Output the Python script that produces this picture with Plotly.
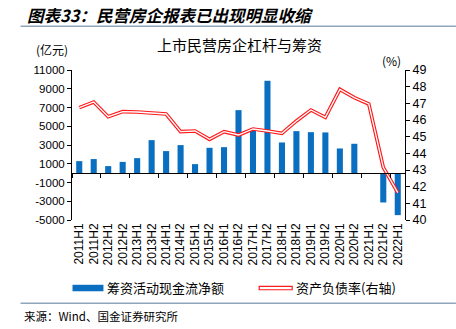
import plotly.graph_objects as go

categories = ["2011H1", "2011H2", "2012H1", "2012H2", "2013H1", "2013H2", "2014H1", "2014H2",
              "2015H1", "2015H2", "2016H1", "2016H2", "2017H1", "2017H2", "2018H1", "2018H2",
              "2019H1", "2019H2", "2020H1", "2020H2", "2021H1", "2021H2", "2022H1"]
financing_cf = [1280, 1500, 750, 1200, 1600, 3520, 2350, 2990, 960, 2700, 2770, 6720,
                4770, 9850, 3270, 4480, 4370, 4340, 2630, 3130, -80, -3130, -4480]
debt_ratio = [46.74, 47.08, 46.2, 46.5, 46.48, 46.44, 46.36, 45.3, 45.34, 44.84, 45.3, 45.1,
              45.46, 45.34, 45.2, 45.94, 46.6, 46.16, 47.84, 47.34, 46.96, 43.16, 41.64]
left_ticks = [-5000, -3000, -1000, 1000, 3000, 5000, 7000, 9000, 11000]
right_ticks = [40, 41, 42, 43, 44, 45, 46, 47, 48, 49]

WIDTH, HEIGHT = 456, 329
L, R, T, B = 71.5, 405.0, 69.5, 220.0

def px(x):
    return (x - L) / (R - L)

def py(y):
    return (B - y) / (B - T)

BLUE = "#0A6FC0"
RED = "#FF1A1A"
RULE = "#8FA6BA"
FONT = "Liberation Sans, Arial, Noto Sans CJK SC"
CJK = "Noto Sans CJK SC"

ymin, ymax = left_ticks[0], left_ticks[-1]
zero_pos = (0 - ymin) / (ymax - ymin)

fig = go.Figure()
fig.add_trace(go.Bar(x=categories, y=financing_cf, marker=dict(color=BLUE, line=dict(width=0)),
                     name="筹资活动现金流净额", showlegend=False))
fig.add_trace(go.Scatter(x=categories, y=debt_ratio, yaxis="y2", mode="lines",
                         line=dict(color=RED, width=3.6), showlegend=False))
fig.add_trace(go.Scatter(x=categories, y=debt_ratio, yaxis="y2", mode="lines",
                         line=dict(color="white", width=1.3), showlegend=False))
# helper trace so the zero-line category axis is drawn
fig.add_trace(go.Scatter(x=categories, y=financing_cf, xaxis="x2", mode="markers",
                         marker=dict(opacity=0), hoverinfo="skip", showlegend=False))

fig.update_layout(
    width=WIDTH, height=HEIGHT,
    margin=dict(l=L, r=WIDTH - R, t=T, b=HEIGHT - B, pad=0),
    paper_bgcolor="white", plot_bgcolor="white",
    font=dict(family=FONT, color="black"),
    bargap=0.58,
    xaxis=dict(type="category", range=[-0.5, len(categories) - 0.5], domain=[0, 1],
               showline=False, ticks="", tickangle=-90, showgrid=False,
               tickfont=dict(size=12, family=FONT, color="black"), anchor="y"),
    xaxis2=dict(type="category", range=[-0.5, len(categories) - 0.5], overlaying="x",
                anchor="free", position=zero_pos, showline=True, linecolor="black",
                linewidth=1, ticks="outside", ticklen=4, tickcolor="black",
                tickson="boundaries", showticklabels=False, showgrid=False),
    yaxis=dict(range=[ymin, ymax], tickvals=left_ticks, ticktext=[str(v) for v in left_ticks],
               showline=True, linecolor="black",
               linewidth=1, ticks="outside", ticklen=4, tickcolor="black", showgrid=False,
               zeroline=False, tickfont=dict(size=11.5, family=FONT, color="black")),
    yaxis2=dict(range=[right_ticks[0], right_ticks[-1]], tickvals=right_ticks,
                ticktext=[str(v) for v in right_ticks], overlaying="y",
                side="right", showline=True, linecolor="black", linewidth=1, ticks="outside",
                ticklen=4, tickcolor="black", showgrid=False, zeroline=False,
                tickfont=dict(size=12.5, family=FONT, color="black")),
)

shapes = [
    dict(type="line", xref="paper", yref="paper", x0=px(20), x1=px(456), y0=py(25.5), y1=py(25.5),
         line=dict(color=RULE, width=1.5)),
    dict(type="line", xref="paper", yref="paper", x0=px(20), x1=px(456), y0=py(303.5), y1=py(303.5),
         line=dict(color=RULE, width=1.5)),
    dict(type="rect", xref="paper", yref="paper", x0=px(72), x1=px(103), y0=py(291.5), y1=py(285),
         fillcolor=BLUE, line=dict(width=0)),
    dict(type="rect", xref="paper", yref="paper", x0=px(259), x1=px(292), y0=py(290), y1=py(286.5),
         fillcolor="white", line=dict(color=RED, width=1.2)),
]
annotations = [
    dict(text="<b><i>图表33：民营房企报表已出现明显收缩</i></b>", x=px(24), y=py(14),
         xanchor="left", yanchor="middle", font=dict(family=CJK, size=16.5, color="black")),
    dict(text="上市民营房企杠杆与筹资", x=px(239), y=py(44), xanchor="center", yanchor="middle",
         font=dict(family=CJK, size=15, color="black")),
    dict(text="(亿元)", x=px(51), y=py(49), xanchor="center", yanchor="middle",
         font=dict(family=CJK, size=12, color="black")),
    dict(text="(%)", x=px(391), y=py(60), xanchor="center", yanchor="middle",
         font=dict(family=CJK, size=12, color="black")),
    dict(text="筹资活动现金流净额", x=px(105), y=py(288), xanchor="left", yanchor="middle",
         font=dict(family=CJK, size=13, color="black")),
    dict(text="资产负债率(右轴)", x=px(294), y=py(288), xanchor="left", yanchor="middle",
         font=dict(family=CJK, size=13, color="black")),
    dict(text="来源：Wind、国金证券研究所", x=px(21), y=py(316), xanchor="left", yanchor="middle",
         font=dict(family=CJK, size=11.5, color="black")),
]
for a in annotations:
    a.update(xref="paper", yref="paper", showarrow=False)
fig.update_layout(shapes=shapes, annotations=annotations)

fig.write_html("out.html")
